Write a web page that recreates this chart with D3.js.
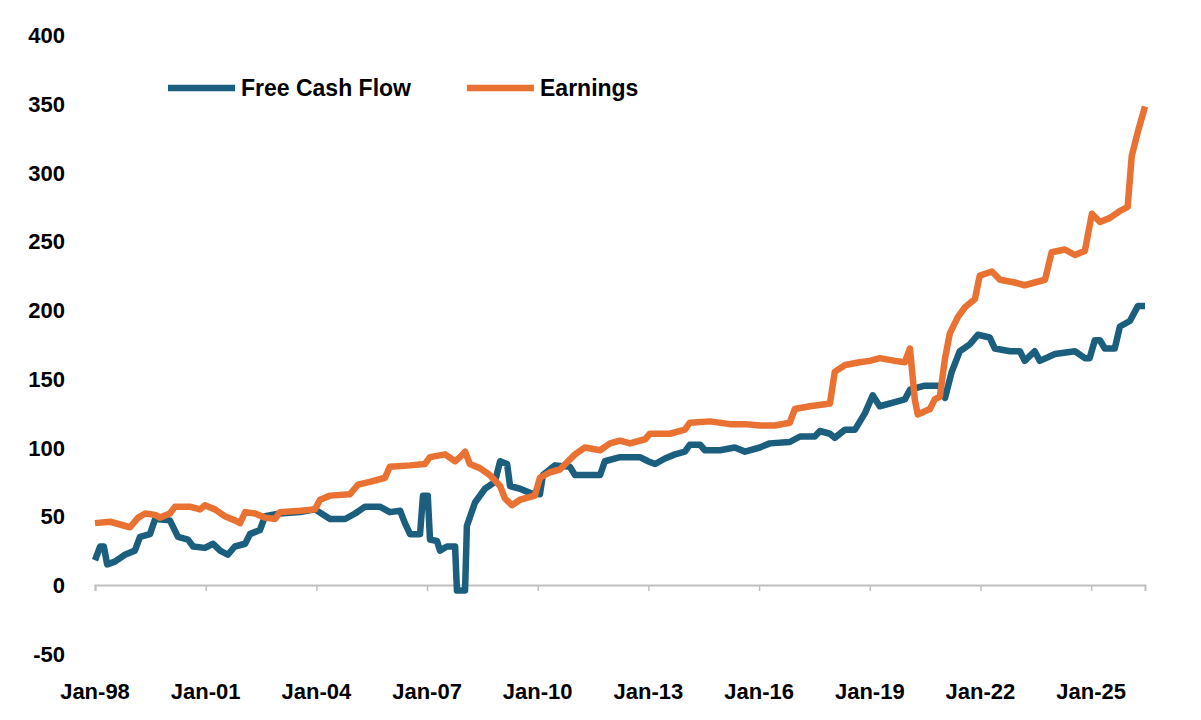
<!DOCTYPE html>
<html>
<head>
<meta charset="utf-8">
<script src="https://cdn.jsdelivr.net/npm/d3@7"></script>
<style>
  body { margin: 0; background: #fff; }
  text { font-family: "Liberation Sans", Arial, sans-serif; font-weight: bold; fill: #000; }
</style>
</head>
<body>
<svg id="chart" width="1201" height="720"></svg>
<script>
// years as offsets from Jan-98 (fractional years)
const fcfYears = [0, .14, .24, .33, .54, .81, 1.08, 1.22, 1.49, 1.63, 2.03, 2.25, 2.52, 2.66, 2.98, 3.2, 3.39, 3.6, 3.79, 4.07, 4.2, 4.47, 4.61, 5.01, 5.56, 5.96, 6.37, 6.78, 7.05, 7.32, 7.72, 7.99, 8.27, 8.4, 8.54, 8.81, 8.89, 9.02, 9.08, 9.27, 9.35, 9.54, 9.76, 9.81, 10.03, 10.08, 10.3, 10.57, 10.84, 10.98, 11.17, 11.25, 11.52, 11.79, 12.06, 12.14, 12.47, 12.87, 13.01, 13.69, 13.82, 14.23, 14.77, 14.99, 15.18, 15.45, 15.72, 15.99, 16.12, 16.4, 16.53, 16.94, 17.34, 17.62, 18.02, 18.29, 18.83, 19.11, 19.51, 19.65, 19.92, 20.05, 20.33, 20.6, 20.87, 21.08, 21.27, 21.68, 21.95, 22.09, 22.49, 22.9, 23.04, 23.22, 23.44, 23.71, 23.93, 24.25, 24.39, 24.8, 25.07, 25.2, 25.47, 25.61, 26.02, 26.56, 26.83, 26.96, 27.1, 27.24, 27.37, 27.64, 27.78, 28.05, 28.27, 28.46];
const fcfValues = [18, 28, 28, 15, 17, 22, 25, 35, 37, 48, 47, 35, 33, 28, 27, 30, 25, 22, 28, 30, 37, 40, 50, 52, 53, 55, 48, 48, 52, 57, 57, 53, 54, 45, 37, 37, 65, 65, 33, 32, 25, 28, 28, -4, -4, 43, 60, 70, 75, 90, 88, 72, 70, 67, 66, 80, 87, 86, 80, 80, 90, 93, 93, 90, 88, 92, 95, 97, 102, 102, 98, 98, 100, 97, 100, 103, 104, 108, 108, 112, 110, 107, 113, 113, 125, 138, 130, 133, 135, 142, 145, 145, 136, 155, 170, 175, 182, 180, 172, 170, 170, 163, 170, 163, 168, 170, 165, 165, 178, 178, 172, 172, 188, 192, 203, 203];

const earnYears = [0, .41, .68, .95, 1.17, 1.36, 1.63, 1.76, 2.03, 2.17, 2.57, 2.85, 2.98, 3.25, 3.52, 3.79, 3.93, 4.07, 4.34, 4.61, 4.88, 5.01, 5.56, 5.96, 6.1, 6.37, 6.91, 7.13, 7.45, 7.86, 7.99, 8.54, 8.94, 9.08, 9.49, 9.76, 9.89, 10.03, 10.16, 10.43, 10.7, 10.98, 11.11, 11.3, 11.52, 11.92, 12.06, 12.33, 12.6, 13.01, 13.28, 13.69, 13.96, 14.23, 14.5, 14.91, 15.04, 15.58, 15.99, 16.12, 16.67, 17.21, 17.62, 18.02, 18.43, 18.83, 18.97, 19.38, 19.92, 20.05, 20.33, 20.73, 21.0, 21.27, 21.68, 21.95, 22.09, 22.22, 22.3, 22.63, 22.76, 22.9, 23.04, 23.17, 23.39, 23.58, 23.85, 23.98, 24.31, 24.53, 24.93, 25.2, 25.47, 25.75, 25.93, 26.29, 26.56, 26.83, 27.02, 27.24, 27.51, 27.78, 27.99, 28.1, 28.27, 28.46];
const earnValues = [45, 46, 44, 42, 49, 52, 51, 49, 52, 57, 57, 55, 58, 55, 50, 47, 45, 53, 52, 49, 48, 53, 54, 55, 62, 65, 66, 73, 75, 78, 86, 87, 88, 93, 95, 90, 93, 97, 88, 85, 80, 72, 63, 58, 62, 65, 78, 82, 84, 95, 100, 98, 103, 105, 103, 106, 110, 110, 113, 118, 119, 117, 117, 116, 116, 118, 128, 130, 132, 155, 160, 162, 163, 165, 163, 162, 172, 135, 124, 128, 135, 137, 165, 183, 195, 202, 208, 225, 228, 222, 220, 218, 220, 222, 242, 244, 240, 243, 270, 264, 267, 272, 275, 312, 330, 348];

const xTickYears = [0, 3, 6, 9, 12, 15, 18, 21, 24, 27];
const xTickLabels = ['Jan-98', 'Jan-01', 'Jan-04', 'Jan-07', 'Jan-10', 'Jan-13', 'Jan-16', 'Jan-19', 'Jan-22', 'Jan-25'];
const yTicks = [-50, 0, 50, 100, 150, 200, 250, 300, 350, 400];

const seriesNames = ['Free Cash Flow', 'Earnings'];
const colors = ['#1b5e7e', '#e97132'];

const svg = d3.select('#chart');
const x = d3.scaleLinear().domain([0, 28.46]).range([95, 1145]);
const y = d3.scaleLinear().domain([-50, 400]).range([653.75, 35]);

// y labels
svg.append('g')
  .selectAll('text')
  .data(yTicks)
  .enter()
  .append('text')
  .attr('x', 65)
  .attr('y', d => y(d) + 8)
  .attr('text-anchor', 'end')
  .style('font-size', '22px')
  .text(d => d);

// zero axis
const xAxis = d3.axisBottom(x)
  .tickValues(xTickYears)
  .tickSize(6)
  .tickFormat('');
const axisG = svg.append('g')
  .attr('transform', `translate(0, ${y(0)})`)
  .call(xAxis);
axisG.select('.domain').attr('stroke', '#bfbfbf').attr('stroke-width', 2);
axisG.selectAll('.tick line').attr('stroke', '#bfbfbf').attr('stroke-width', 1.5);

svg.append('g')
  .selectAll('text')
  .data(xTickYears)
  .enter()
  .append('text')
  .attr('x', d => x(d))
  .attr('y', 699)
  .attr('text-anchor', 'middle')
  .style('font-size', '22px')
  .text((d, i) => xTickLabels[i]);

const line = d3.line()
  .x(d => x(d[0]))
  .y(d => y(d[1]));

const series = [
  d3.zip(fcfYears, fcfValues),
  d3.zip(earnYears, earnValues)
];

[0, 1].forEach(i => {
  svg.append('path')
    .datum(series[i])
    .attr('fill', 'none')
    .attr('stroke', colors[i])
    .attr('stroke-width', 6.5)
    .attr('stroke-linejoin', 'round')
    .attr('d', line);
});

// legend
const legend = [
  { x: 168, name: seriesNames[0], color: colors[0] },
  { x: 467, name: seriesNames[1], color: colors[1] }
];
legend.forEach(l => {
  svg.append('line')
    .attr('x1', l.x).attr('x2', l.x + 67)
    .attr('y1', 88).attr('y2', 88)
    .attr('stroke', l.color)
    .attr('stroke-width', 6.5);
  svg.append('text')
    .attr('x', l.x + 73)
    .attr('y', 96)
    .style('font-size', '23px')
    .text(l.name);
});
</script>
</body>
</html>
